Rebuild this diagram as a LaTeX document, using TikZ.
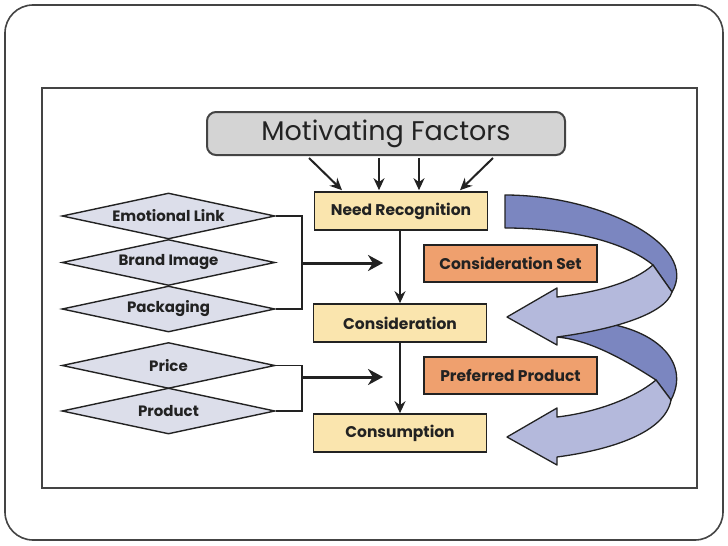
\documentclass[tikz,border=0pt]{standalone}
\usepackage{fontspec}
\setmainfont{Poppins}
\usetikzlibrary{shapes.geometric,arrows.meta,calc}
\definecolor{yel}{HTML}{FAE5AE}
\definecolor{ora}{HTML}{EFA06E}
\definecolor{dia}{HTML}{DCDEEA}
\definecolor{gry}{HTML}{D4D4D4}
\definecolor{ribD}{HTML}{7B86C0}
\definecolor{ribL}{HTML}{B4B9DC}
\definecolor{ink}{HTML}{222222}
\definecolor{framecol}{HTML}{444444}
\begin{document}
\begin{tikzpicture}[x=1pt,y=-1pt,
  stepbox/.style={draw=ink,line width=1.6pt,fill=yel,minimum width=173pt,minimum height=38pt,inner sep=0pt,font=\bfseries\fontsize{15.5}{17}\selectfont,text=ink},
  setbox/.style={draw=ink,line width=1.6pt,fill=ora,minimum width=173pt,minimum height=37pt,inner sep=0pt,font=\bfseries\fontsize{15.5}{17}\selectfont,text=ink},
  factor/.style={diamond,aspect=4.63,draw=ink,line width=1.4pt,fill=dia,minimum width=213pt,minimum height=46pt,inner sep=0pt,font=\bfseries\fontsize{15}{17}\selectfont,text=ink},
  motbox/.style={draw=framecol,line width=2pt,fill=gry,rounded corners=9pt,minimum width=358pt,minimum height=43pt,inner sep=0pt,font=\fontsize{27}{30}\selectfont,text=ink},
  thinarrow/.style={draw=ink,line width=2pt,-{Stealth[length=12pt,width=11pt]}},
  thickarrow/.style={draw=ink,line width=3pt,-{Stealth[length=15pt,width=16pt]}},
  bracket/.style={draw=ink,line width=1.6pt},
  ribdark/.style={fill=ribD,draw=ink,line width=1.3pt,line join=round},
  riblight/.style={fill=ribL,draw=ink,line width=1.3pt,line join=round}
]
\useasboundingbox (0,0) rectangle (728,546);
\fill[white] (0,0) rectangle (728,546);
\draw[framecol,line width=1.6pt,rounded corners=28pt] (5,5) rectangle (723,540);
\draw[framecol,line width=2.5pt] (42,88) rectangle (697,488);

% ribbons
\path[ribdark] (560,322) .. controls (640,315) and (695,355) .. (671,400) -- (656,380) .. controls (625,360) and (590,340) .. (557,337) -- cycle;
\path[riblight] (656,380) .. controls (632,400) and (592,413) .. (557,417) -- (557,408) -- (507,437) -- (557,465) -- (557,457) .. controls (610,450) and (665,433) .. (671,400) -- cycle;
\path[ribdark] (505,195) .. controls (600,195) and (700,245) .. (672,292) -- (653,265) .. controls (625,242) and (570,228) .. (505,228) -- cycle;
\path[riblight] (653,265) .. controls (630,285) and (590,293) .. (557,297) -- (557,288) -- (507,317) -- (557,345) -- (557,337) .. controls (610,330) and (665,315) .. (672,292) -- cycle;

% nodes
\node[motbox] (mf) at (386,133.5) {Motivating Factors};
\node[stepbox] (nr) at (401,211) {Need Recognition};
\node[stepbox] (con) at (400,323) {Consideration};
\node[stepbox] (cons) at (400,433) {Consumption};
\node[setbox] (cs) at (510.5,263.5) {Consideration Set};
\node[setbox] (pp) at (510.5,375.5) {Preferred Product};
\node[factor] (el) at (168.5,216) {Emotional Link};
\node[factor] (bi) at (168.5,262.5) {Brand Image};
\node[factor] (pk) at (168.5,309) {Packaging};
\node[factor] (pr) at (168.5,365.5) {Price};
\node[factor] (pd) at (168.5,411) {Product};

% motivating arrows
\draw[thinarrow] ($(mf.south)+(-77,2)$) -- ($(nr.north)+(-59,-1)$);
\draw[thinarrow] ($(mf.south)+(-7,2)$) -- ($(nr.north)+(-22,-1)$);
\draw[thinarrow] ($(mf.south)+(33,2)$) -- ($(nr.north)+(18,-1)$);
\draw[thinarrow] ($(mf.south)+(107,2)$) -- ($(nr.north)+(59,-1)$);

% process arrows
\draw[thinarrow] (nr.south -| con.north) -- (con.north);
\draw[thinarrow] (con.south) -- (cons.north);

% brackets
\coordinate (b1) at (302,263);
\coordinate (a1) at (383,263);
\coordinate (b2) at (302,377);
\coordinate (a2) at (383,377);
\draw[bracket] (el.east) -| (b1) |- (pk.east);
\draw[thickarrow] (b1) -- (a1);
\draw[bracket] (pr.east) -| (b2) |- (pd.east);
\draw[thickarrow] (b2) -- (a2);
\end{tikzpicture}
\end{document}
